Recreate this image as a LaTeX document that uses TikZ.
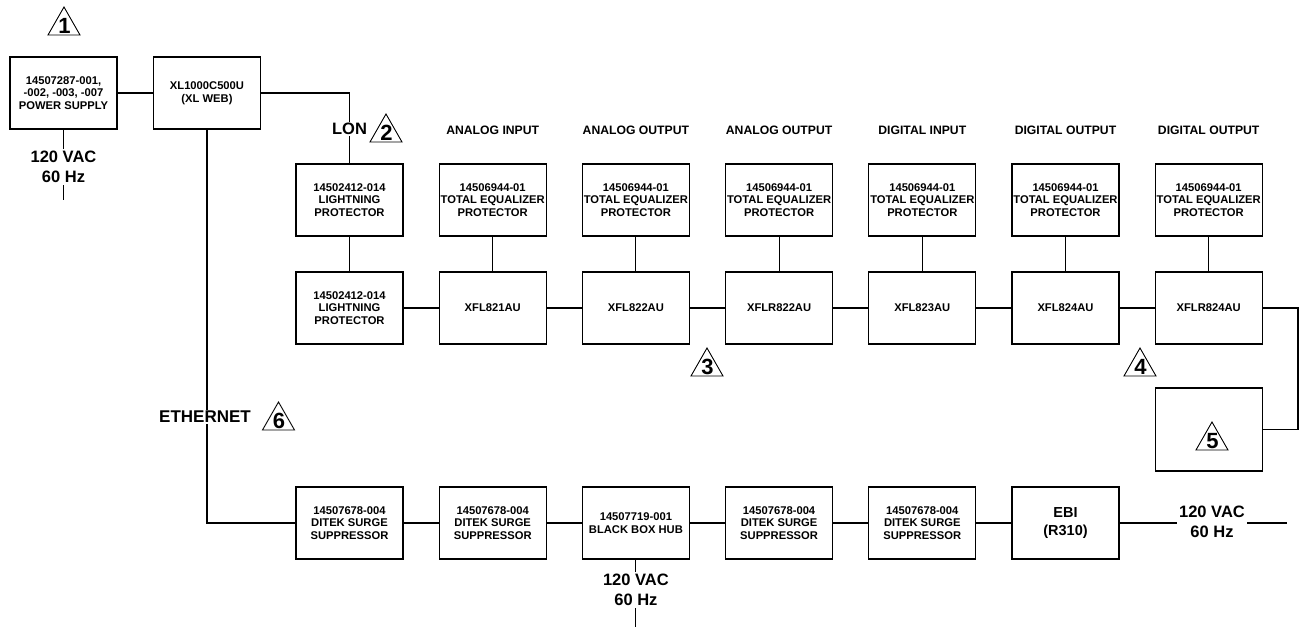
\documentclass[tikz,border=0pt]{standalone}
\usepackage{fontspec}
\setmainfont{Liberation Sans}
\tikzset{
  box/.style={draw, line width=1.1pt, minimum width=107pt, minimum height=72pt, inner xsep=1pt, inner ysep=2pt, align=center, font=\bfseries\fontsize{11.2}{12.5}\selectfont},
  wire/.style={line width=1.1pt},
  head/.style={font=\bfseries\fontsize{12.2}{14}\selectfont},
  biglbl/.style={fill=white, inner sep=2pt, align=center, font=\bfseries\fontsize{16.5}{20}\selectfont},
  trinum/.style={anchor=base, inner sep=0pt, font=\bfseries\fontsize{22}{22}\selectfont},
  triline/.style={line width=0.9pt, line join=miter},
}
% #1 name, #2 x centre, #3 y of base, #4 digit
\newcommand{\notetri}[4]{%
  \draw[triline] (#2-16,#3) -- (#2,#3-28) -- (#2+16,#3) -- cycle;
  \node[trinum] (#1) at (#2+0.5,#3-2) {#4};
}
\begin{document}
\begin{tikzpicture}[x=1pt, y=-1pt]
\useasboundingbox (0,0) rectangle (1302,627);
% top-left
\node[box] (ps) at (63.5,93) {14507287-001,\\-002, -003, -007\\POWER SUPPLY};
\node[box] (xl) at (207,93) {XL1000C500U\\(XL WEB)};
\notetri{t1}{64}{35}{1}
\coordinate (psend) at (63.5,200);
\draw[wire] (ps.south) -- (psend);
\node[biglbl] (psv) at (63.5,167) {120 VAC\\60 Hz};
\draw[wire] (ps.east) -- (xl.west);
% headings
\node[head] (h1) at (492.7,130) {ANALOG INPUT};
\node[head] (h2) at (635.9,130) {ANALOG OUTPUT};
\node[head] (h3) at (779.1,130) {ANALOG OUTPUT};
\node[head] (h4) at (922.3,130) {DIGITAL INPUT};
\node[head] (h5) at (1065.5,130) {DIGITAL OUTPUT};
\node[head] (h6) at (1208.7,130) {DIGITAL OUTPUT};
% protector row
\node[box] (lp1) at (349.5,200) {14502412-014\\LIGHTNING\\PROTECTOR};
\node[box] (te1) at (492.7,200) {14506944-01\\TOTAL EQUALIZER\\PROTECTOR};
\node[box] (te2) at (635.9,200) {14506944-01\\TOTAL EQUALIZER\\PROTECTOR};
\node[box] (te3) at (779.1,200) {14506944-01\\TOTAL EQUALIZER\\PROTECTOR};
\node[box] (te4) at (922.3,200) {14506944-01\\TOTAL EQUALIZER\\PROTECTOR};
\node[box] (te5) at (1065.5,200) {14506944-01\\TOTAL EQUALIZER\\PROTECTOR};
\node[box] (te6) at (1208.7,200) {14506944-01\\TOTAL EQUALIZER\\PROTECTOR};
% controller row
\node[box] (lp2) at (349.5,308) {14502412-014\\LIGHTNING\\PROTECTOR};
\node[box] (x1) at (492.7,308) {XFL821AU};
\node[box] (x2) at (635.9,308) {XFL822AU};
\node[box] (x3) at (779.1,308) {XFLR822AU};
\node[box] (x4) at (922.3,308) {XFL823AU};
\node[box] (x5) at (1065.5,308) {XFL824AU};
\node[box] (x6) at (1208.7,308) {XFLR824AU};
\node[box, minimum height=83pt] (b5) at (1208.7,429.5) {};
\notetri{t5}{1212}{450}{5}
\notetri{t3}{707}{376}{3}
\notetri{t4}{1140}{376}{4}
% LON link
\draw[wire] (xl.east) -| (lp1.north);
\node[biglbl, inner sep=1pt] (lon) at (349.5,129) {LON};
\notetri{t2}{386}{142}{2}
\draw[wire] (lp1.south) -- (lp2.north);
\foreach \a/\b in {te1/x1,te2/x2,te3/x3,te4/x4,te5/x5,te6/x6} \draw[wire] (\a.south) -- (\b.north);
\foreach \a/\b in {lp2/x1,x1/x2,x2/x3,x3/x4,x4/x5,x5/x6} \draw[wire] (\a.east) -- (\b.west);
\coordinate (rloop) at (1298,308);
\draw[wire] (x6.east) -- (rloop) |- (b5.east);
% ethernet row
\node[box] (d1) at (349.5,523) {14507678-004\\DITEK SURGE\\SUPPRESSOR};
\node[box] (d2) at (492.7,523) {14507678-004\\DITEK SURGE\\SUPPRESSOR};
\node[box] (hub) at (635.9,523) {14507719-001\\BLACK BOX HUB};
\node[box] (d3) at (779.1,523) {14507678-004\\DITEK SURGE\\SUPPRESSOR};
\node[box] (d4) at (922.3,523) {14507678-004\\DITEK SURGE\\SUPPRESSOR};
\node[box, font=\bfseries\fontsize{14.5}{18}\selectfont] (ebi) at (1065.5,523) {EBI\\(R310)};
\draw[wire] (xl.south) |- (d1.west);
\node[biglbl, inner sep=1pt, font=\bfseries\fontsize{17}{20}\selectfont] (eth) at (205,417) {ETHERNET};
\notetri{t6}{278.5}{430}{6}
\foreach \a/\b in {d1/d2,d2/hub,hub/d3,d3/d4,d4/ebi} \draw[wire] (\a.east) -- (\b.west);
\coordinate (hubend) at (635.9,627);
\draw[wire] (hub.south) -- (hubend);
\node[biglbl] (hubv) at (635.9,590) {120 VAC\\60 Hz};
\coordinate (ebiend) at (1287,523);
\draw[wire] (ebi.east) -- (ebiend);
\node[biglbl] (ebiv) at (1212,522) {120 VAC\\60 Hz};
\end{tikzpicture}
\end{document}
